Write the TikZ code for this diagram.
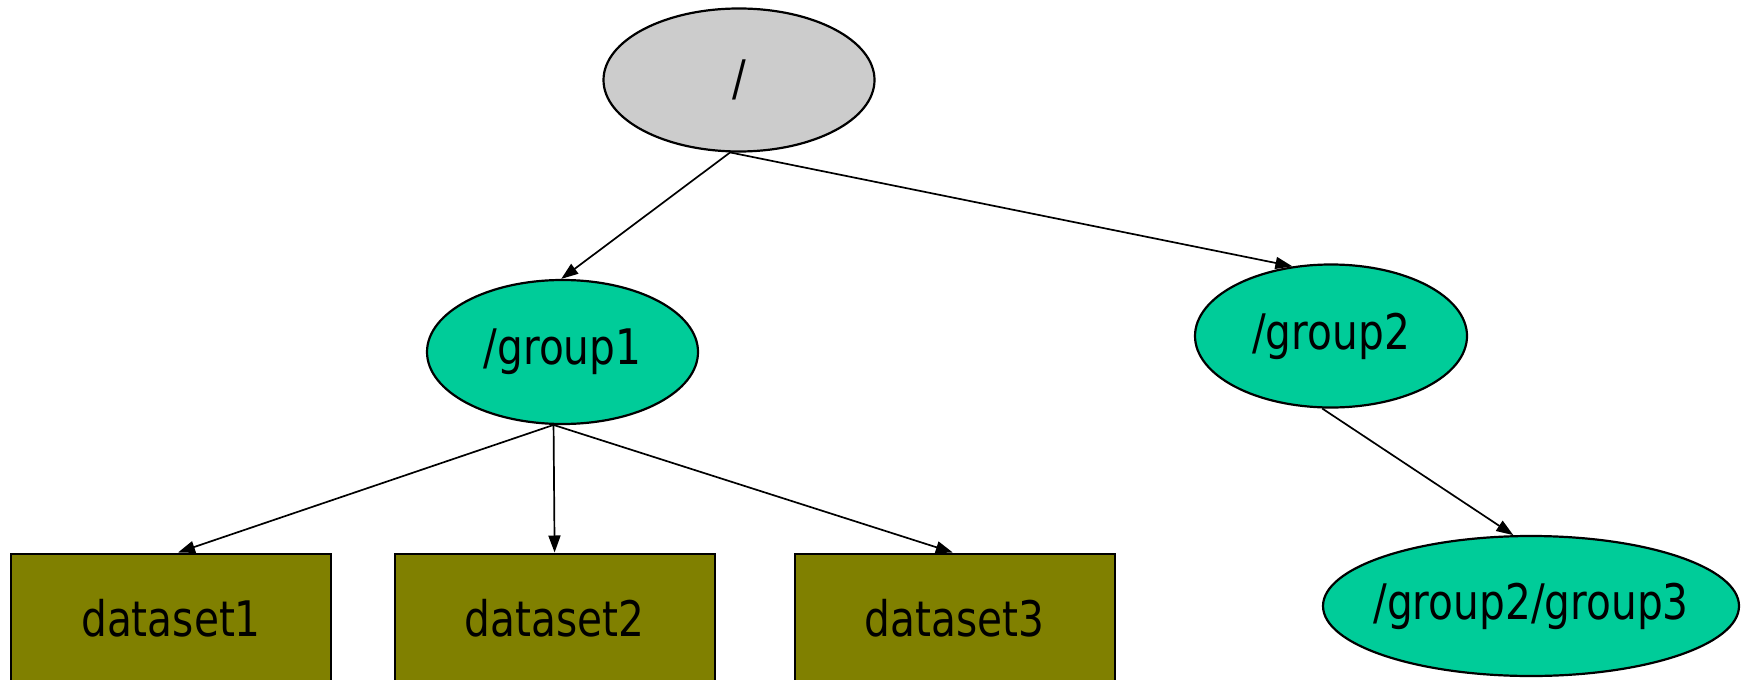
\documentclass[tikz,border=0pt]{standalone}
\usepackage{fontspec}
\setmainfont{DejaVu Sans}
\usetikzlibrary{shapes.geometric,arrows.meta}
\definecolor{rootgray}{RGB}{204,204,204}
\definecolor{grpgreen}{RGB}{0,204,153}
\definecolor{dsolive}{RGB}{128,128,0}
\newcommand{\lbl}[1]{\makebox[0pt]{\raisebox{-1.5pt}{\scalebox{0.83}[1]{#1}}}}
\begin{document}
\begin{tikzpicture}[x=0.5pt,y=-0.5pt,
  grp/.style={ellipse,draw,line width=1.1pt,inner sep=0pt,font=\fontsize{24.5}{28}\selectfont},
  dsbox/.style={rectangle,draw,line width=1.1pt,fill=dsolive,inner sep=0pt,anchor=north,
     minimum width=160pt,minimum height=100pt},
  dstext/.style={font=\fontsize{24.5}{28}\selectfont,inner sep=0pt},
  edge/.style={-{Triangle[length=8.5pt,width=6pt]},line width=0.85pt}]
\useasboundingbox (0,0) rectangle (1748,679);
\clip (0,0) rectangle (1748,679);
\node[grp,fill=rootgray,minimum width=135.5pt,minimum height=71.5pt] (root) at (739,80) {\lbl{/}};
\node[grp,fill=grpgreen,minimum width=135.5pt,minimum height=72pt] (g1) at (562.5,352) {\lbl{/group1}};
\node[grp,fill=grpgreen,minimum width=136pt,minimum height=71.5pt] (g2) at (1331,336) {\lbl{/group2}};
\node[grp,fill=grpgreen,minimum width=208pt,minimum height=70pt] (g3) at (1531,606) {\lbl{/group2/group3}};
\node[dsbox] (d1) at (171,552.5) {};
\node[dsbox] (d2) at (554.6,552.5) {};
\node[dsbox] (d3) at (954.8,552.5) {};
\node[dstext] (t1) at (171,618) {\lbl{dataset1}};
\node[dstext] (t2) at (554.6,618) {\lbl{dataset2}};
\node[dstext] (t3) at (954.8,618) {\lbl{dataset3}};
\draw[edge] (root.263) -- (g1.91);
\draw[edge] (root.263) -- (g2.119);
\draw[edge] (g1.263) -- ([xshift=3.5pt]d1.north);
\draw[edge] (g1.263) -- (d2.north);
\draw[edge] (g1.263) -- ([xshift=-1pt]d3.north);
\draw[edge] (g2.263) -- (g3.104);
\end{tikzpicture}
\end{document}
